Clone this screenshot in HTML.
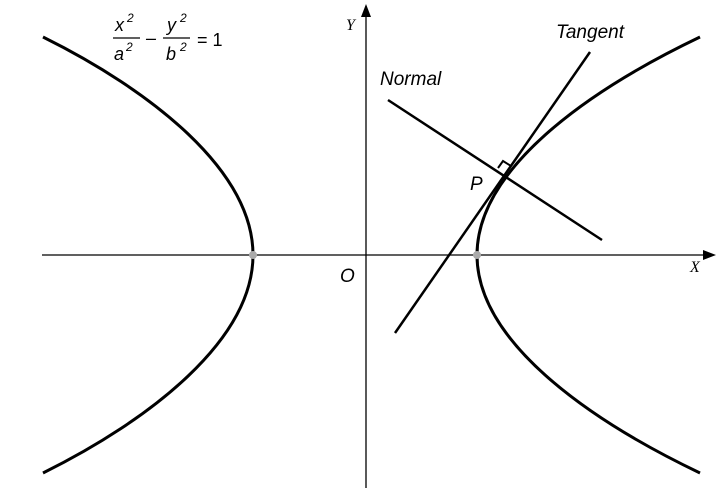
<!DOCTYPE html>
<html><head><style>
html,body{margin:0;padding:0;background:#fff;}
svg{display:block;}
.t{font-family:"Liberation Sans",sans-serif;font-style:italic;font-size:19px;fill:#000;}
.s{font-family:"Liberation Serif",serif;font-style:italic;font-size:16px;fill:#000;}
</style></head><body>
<svg width="717" height="488" viewBox="0 0 717 488" xmlns="http://www.w3.org/2000/svg">
<line x1="42" y1="255" x2="706" y2="255" stroke="#000" stroke-width="1.3"/>
<polygon points="716,255 703,250 703,260" fill="#000"/>
<line x1="366" y1="488" x2="366" y2="14" stroke="#000" stroke-width="1.3"/>
<polygon points="366,4 361,17 371,17" fill="#000"/>
<g fill="none" stroke="#000" stroke-width="3">
<path d="M43,37 C150,90 253,170 253,255"/>
<path d="M43,473 C150,420 253,340 253,255"/>
<path d="M700,37 C585,92 477,170 477,255"/>
<path d="M700,473 C585,418 477,340 477,255"/>
</g>
<line x1="395" y1="333" x2="590" y2="52" stroke="#000" stroke-width="2.5"/>
<line x1="388" y1="100" x2="602" y2="240" stroke="#000" stroke-width="2.5"/>
<polyline points="498,168 503,161 511,166" fill="none" stroke="#000" stroke-width="2"/>
<circle cx="253" cy="255" r="4" fill="#aaa"/>
<circle cx="477" cy="255" r="4" fill="#aaa"/>
<text class="t" x="556" y="38">Tangent</text>
<text class="t" x="380" y="85">Normal</text>
<text class="t" x="470" y="190">P</text>
<text class="t" x="340" y="282">O</text>
<text class="s" x="346" y="30">Y</text>
<text class="s" x="690" y="272">X</text>
<g class="t" style="font-size:18px">
<text x="115" y="31">x</text><text x="127" y="22" style="font-size:12px">2</text>
<line x1="113" y1="38" x2="140" y2="38" stroke="#000" stroke-width="1.3"/>
<text x="114" y="60">a</text><text x="126" y="51" style="font-size:12px">2</text>
<text x="146" y="44">–</text>
<text x="167" y="31">y</text><text x="180" y="22" style="font-size:12px">2</text>
<line x1="163" y1="38" x2="190" y2="38" stroke="#000" stroke-width="1.3"/>
<text x="166" y="60">b</text><text x="180" y="51" style="font-size:12px">2</text>
<text x="197" y="46" style="font-style:normal">= 1</text>
</g>
</svg>
</body></html>
